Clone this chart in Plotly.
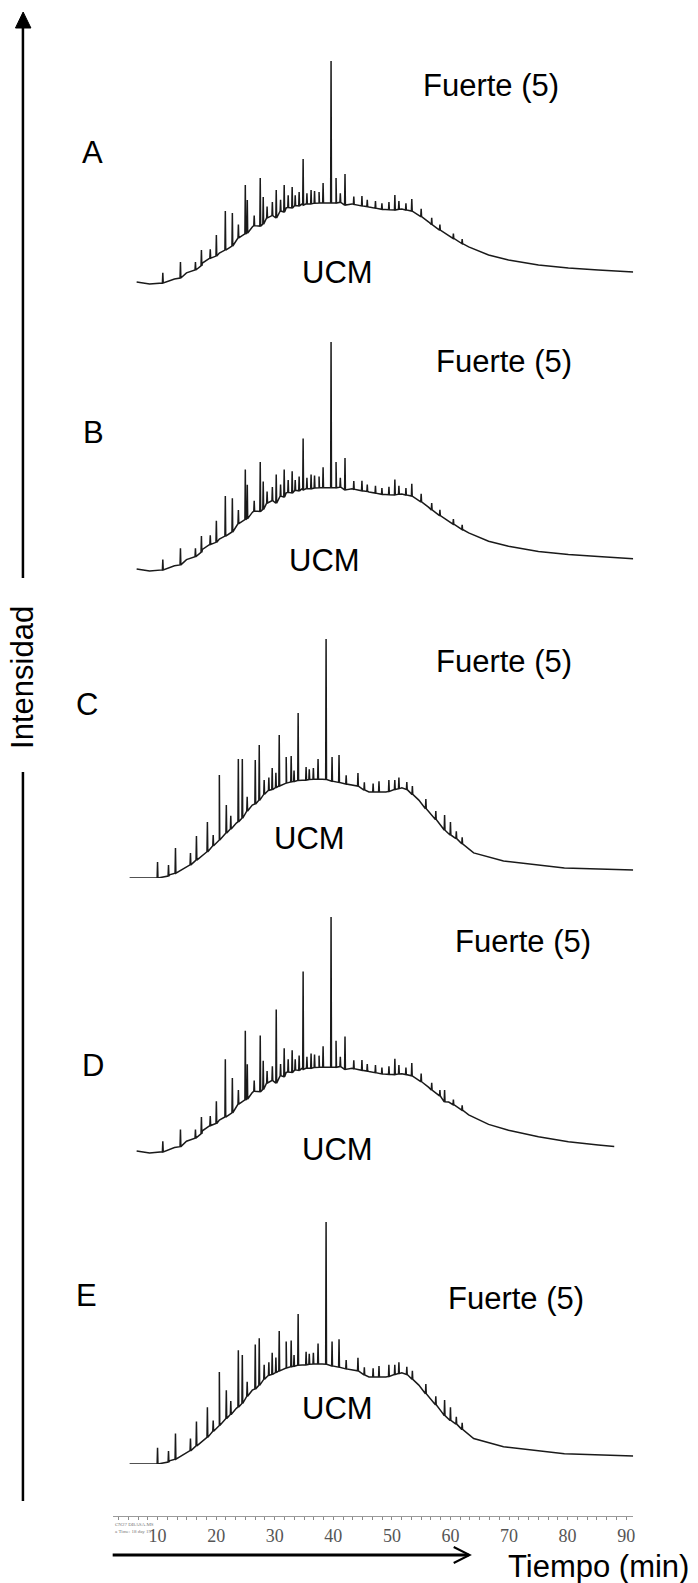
import plotly.graph_objects as go

# ---------------- DATA (time in min, intensity in relative units; main peak = 100) ----------------
# Panel A
a_env_t = [6.43, 8.64, 10.85, 12.89, 14.94, 17.66, 20.55, 23.45, 26.17, 29.06, 31.96, 34.68, 37.57,
           40.47, 43.19, 46.09, 48.98, 51.70, 53.74, 56.30, 59.70, 63.11, 66.51, 69.91, 75.02, 80.13, 85.23, 91.2]
a_env_i = [1.3, 0.4, 0.9, 2.7, 5.4, 9.8, 14.3, 20.1, 25.9, 30.4, 34.4, 36.2, 36.6,
           37.1, 36.2, 34.8, 33.5, 33.9, 32.6, 28.1, 21.9, 17.0, 13.4, 11.2, 8.9, 7.6, 6.7, 5.8]
a_pk_t = [10.9, 13.91, 16.47, 17.49, 20.04, 21.57, 22.77, 24.98, 25.32, 27.53, 28.04, 30.26, 31.62,
          32.98, 34.17, 34.85, 36.21, 37.57, 38.26, 39.62, 40.47, 42.00, 44.89, 50.51, 53.40,
          19.0, 23.8, 26.5, 28.7, 29.6, 31.0, 32.3, 33.5, 35.5, 36.8, 41.2, 43.5, 45.8, 47.2,
          48.3, 49.5, 51.2, 52.4, 55.0, 56.8, 58.2, 60.5, 62.0]
a_pk_base = [0.9, 3.1, 6.7, 8.5, 12.9, 15.6, 17.4, 22.8, 23.2, 26.3, 27.2, 29.9, 32.6,
             34.4, 35.3, 35.7, 36.2, 36.6, 36.6, 36.6, 36.6, 35.7, 35.3, 33.5, 33.0,
             12.0, 21.0, 26.5, 30.0, 31.0, 33.0, 34.6, 35.5, 36.3, 36.5, 36.9, 36.0, 35.0, 34.3,
             33.8, 33.6, 33.8, 33.5, 30.5, 27.0, 24.5, 20.8, 18.5]
a_pk_top = [5.4, 10.3, 10.3, 15.6, 22.3, 33.0, 32.1, 44.6, 37.9, 47.8, 39.3, 42.4, 44.6,
            43.8, 41.5, 56.2, 42.4, 41.5, 45.5, 100, 47.8, 49.6, 39.7, 40.2, 38.4,
            16.0, 27.0, 31.0, 35.0, 37.0, 38.0, 40.0, 40.0, 41.0, 42.0, 41.0, 39.5, 38.0, 37.5,
            36.5, 37.0, 37.5, 36.5, 34.0, 30.0, 27.0, 23.0, 20.5]

# Panel B
b_env_t = [6.43, 8.64, 10.85, 12.89, 14.94, 17.66, 20.55, 23.45, 26.17, 29.06, 31.96, 34.68, 37.57,
           40.47, 43.19, 46.09, 48.98, 51.70, 53.74, 56.30, 59.70, 63.11, 66.51, 69.91, 75.02, 80.13, 85.23, 91.2]
b_env_i = [1.3, 0.4, 0.9, 2.7, 5.4, 9.8, 14.3, 20.1, 25.9, 30.4, 34.4, 36.2, 36.6,
           37.1, 36.2, 34.8, 33.5, 33.9, 32.6, 28.1, 21.9, 17.0, 13.4, 11.2, 8.9, 7.6, 6.7, 5.8]
b_pk_t = [10.9, 13.91, 16.47, 17.49, 20.04, 21.57, 22.77, 24.98, 25.32, 27.53, 28.04, 30.26, 31.62,
          32.98, 34.17, 34.85, 36.21, 37.57, 38.26, 39.62, 40.47, 42.00, 44.89, 50.51, 53.40,
          19.0, 23.8, 26.5, 28.7, 29.6, 31.0, 32.3, 33.5, 35.5, 36.8, 41.2, 43.5, 45.8, 47.2,
          48.3, 49.5, 51.2, 52.4, 55.0, 56.8, 58.2, 60.5, 62.0]
b_pk_base = [0.9, 3.1, 6.7, 8.5, 12.9, 15.6, 17.4, 22.8, 23.2, 26.3, 27.2, 29.9, 32.6,
             34.4, 35.3, 35.7, 36.2, 36.6, 36.6, 36.6, 36.6, 35.7, 35.3, 33.5, 33.0,
             12.0, 21.0, 26.5, 30.0, 31.0, 33.0, 34.6, 35.5, 36.3, 36.5, 36.9, 36.0, 35.0, 34.3,
             33.8, 33.6, 33.8, 33.5, 30.5, 27.0, 24.5, 20.8, 18.5]
b_pk_top = [5.4, 10.3, 10.3, 15.6, 22.3, 33.0, 32.1, 44.6, 37.9, 47.8, 39.3, 42.4, 44.6,
            43.8, 41.5, 58.0, 42.4, 41.5, 45.5, 100, 47.8, 49.6, 39.7, 40.2, 38.4,
            16.0, 27.0, 31.0, 35.0, 37.0, 38.0, 40.0, 40.0, 41.0, 42.0, 41.0, 39.5, 38.0, 37.5,
            36.5, 37.0, 37.5, 36.5, 34.0, 30.0, 27.0, 23.0, 20.5]

# Panel C
c_env_t = [5.23, 9.15, 12.04, 14.94, 17.66, 20.55, 23.45, 26.17, 29.06, 31.96, 34.68, 37.57, 40.47,
           43.19, 46.09, 48.98, 51.70, 54.60, 58.68, 63.96, 69.06, 79.45, 91.2]
c_env_i = [0.0, 0.0, 1.3, 4.6, 9.6, 15.9, 23.0, 30.5, 36.8, 39.7, 41.0, 41.4, 40.2,
           38.9, 36.0, 36.0, 37.7, 32.6, 20.9, 10.5, 7.1, 4.2, 3.3]
c_pk_t = [10.0, 11.87, 13.06, 15.62, 16.64, 18.51, 20.55, 21.74, 23.79, 24.47, 26.68, 27.36, 29.57,
          30.77, 31.96, 32.81, 34.0, 35.36, 37.40, 38.77, 39.79, 40.98, 44.21, 49.49, 52.55, 59.0, 60.0,
          19.5, 22.5, 25.3, 28.2, 29.0, 30.2, 33.3, 35.9, 36.6, 42.2, 45.3, 46.8, 47.8, 50.5,
          51.2, 53.5, 55.8, 57.5, 61.0, 62.0]
c_pk_base = [0.0, 0.8, 2.0, 5.5, 7.5, 11.0, 15.9, 18.8, 23.5, 25.0, 31.0, 32.5, 37.0,
             38.5, 39.7, 40.2, 40.8, 41.0, 41.4, 41.2, 40.5, 40.0, 38.5, 36.2, 37.0, 20.0, 18.0,
             13.5, 20.5, 28.0, 35.0, 36.7, 37.8, 40.4, 41.2, 41.3, 39.3, 36.8, 36.0, 36.0, 37.0,
             37.4, 35.0, 29.0, 24.5, 16.5, 14.3]
c_pk_top = [6.7, 5.4, 12.6, 10.5, 17.6, 23.4, 43.1, 30.5, 49.8, 49.8, 49.4, 55.6, 46.0,
            59.8, 50.6, 51.0, 69.0, 46.4, 49.8, 100, 50.6, 51.5, 43.9, 41.0, 40.2, 26.4, 23.4,
            18.0, 26.0, 34.0, 41.0, 42.0, 44.0, 45.0, 45.5, 46.0, 43.0, 40.0, 39.5, 40.5, 41.0,
            42.0, 38.5, 33.0, 28.0, 19.5, 17.0]

# Panel D
d_env_t = [6.43, 8.64, 10.85, 12.89, 14.94, 17.66, 20.55, 23.45, 26.17, 29.06, 31.96, 34.68, 37.57,
           40.47, 43.19, 46.09, 48.98, 51.70, 53.74, 56.30, 59.70, 63.11, 66.51, 69.91, 75.02, 80.13, 85.23, 87.96]
d_env_i = [1.3, 0.4, 0.9, 2.7, 5.4, 9.8, 14.3, 20.1, 25.9, 30.4, 34.4, 36.2, 36.6,
           37.1, 36.2, 34.8, 33.5, 33.9, 32.6, 28.1, 21.9, 16.5, 12.5, 10.0, 7.3, 5.2, 3.8, 3.2]
d_pk_t = [10.9, 13.91, 16.47, 17.49, 20.04, 21.57, 22.77, 24.98, 25.32, 27.53, 28.04, 30.26, 31.62,
          32.98, 34.17, 34.85, 36.21, 37.57, 38.26, 39.62, 40.47, 42.00, 44.89, 50.51, 53.40, 59.0,
          19.0, 23.8, 26.5, 28.7, 29.6, 31.0, 32.3, 33.5, 35.5, 36.8, 41.2, 43.5, 45.8, 47.2,
          48.3, 49.5, 51.2, 52.4, 55.0, 56.8, 58.2, 60.5, 62.0]
d_pk_base = [0.9, 3.1, 6.7, 8.5, 12.9, 15.6, 17.4, 22.8, 23.2, 26.3, 27.2, 29.9, 32.6,
             34.4, 35.3, 35.7, 36.2, 36.6, 36.6, 36.6, 36.6, 35.7, 35.3, 33.5, 33.0, 22.0,
             12.0, 21.0, 26.5, 30.0, 31.0, 33.0, 34.6, 35.5, 36.3, 36.5, 36.9, 36.0, 35.0, 34.3,
             33.8, 33.6, 33.8, 33.5, 30.5, 27.0, 24.5, 20.8, 18.5]
d_pk_top = [5.4, 10.3, 10.3, 15.6, 22.3, 40.0, 32.1, 52.0, 37.9, 50.0, 39.3, 61.0, 44.6,
            43.8, 41.5, 77.0, 42.4, 41.5, 45.5, 100, 47.8, 49.6, 39.7, 40.2, 38.4, 27.0,
            16.0, 27.0, 31.0, 35.0, 37.0, 38.0, 40.0, 40.0, 41.0, 42.0, 41.0, 39.5, 38.0, 37.5,
            36.5, 37.0, 37.5, 36.5, 34.0, 30.0, 27.0, 23.0, 20.5]

# Panel E
e_env_t = [5.23, 9.15, 12.04, 14.94, 17.66, 20.55, 23.45, 26.17, 29.06, 31.96, 34.68, 37.57, 40.47,
           43.19, 46.09, 48.98, 51.70, 54.60, 58.68, 63.96, 69.06, 79.45, 91.2]
e_env_i = [0.0, 0.0, 1.3, 4.6, 9.6, 15.9, 23.0, 30.5, 36.8, 39.7, 41.0, 41.4, 40.2,
           38.9, 36.0, 36.0, 37.7, 32.6, 20.9, 10.5, 7.1, 4.2, 3.3]
e_pk_t = [10.0, 11.87, 13.06, 15.62, 16.64, 18.51, 20.55, 21.74, 23.79, 24.47, 26.68, 27.36, 29.57,
          30.77, 31.96, 32.81, 34.0, 35.36, 37.40, 38.77, 39.79, 40.98, 44.21, 49.49, 52.55, 59.0, 60.0,
          19.5, 22.5, 25.3, 28.2, 29.0, 30.2, 33.3, 35.9, 36.6, 42.2, 45.3, 46.8, 47.8, 50.5,
          51.2, 53.5, 55.8, 57.5, 61.0, 62.0]
e_pk_base = [0.0, 0.8, 2.0, 5.5, 7.5, 11.0, 15.9, 18.8, 23.5, 25.0, 31.0, 32.5, 37.0,
             38.5, 39.7, 40.2, 40.8, 41.0, 41.4, 41.2, 40.5, 40.0, 38.5, 36.2, 37.0, 20.0, 18.0,
             13.5, 20.5, 28.0, 35.0, 36.7, 37.8, 40.4, 41.2, 41.3, 39.3, 36.8, 36.0, 36.0, 37.0,
             37.4, 35.0, 29.0, 24.5, 16.5, 14.3]
e_pk_top = [6.7, 5.4, 12.6, 10.5, 17.6, 23.4, 38.0, 30.5, 47.0, 45.0, 49.4, 52.0, 46.0,
            55.0, 50.6, 51.0, 62.0, 46.4, 49.8, 100, 50.6, 51.5, 43.9, 41.0, 40.2, 26.4, 23.4,
            18.0, 26.0, 34.0, 41.0, 42.0, 44.0, 45.0, 45.5, 46.0, 43.0, 40.0, 39.5, 40.5, 41.0,
            42.0, 38.5, 33.0, 28.0, 19.5, 17.0]

panel_labels = ["A", "B", "C", "D", "E"]
peak_label = "Fuerte (5)"
hump_label = "UCM"
x_ticks = [10, 20, 30, 40, 50, 60, 70, 80, 90]

# ---------------- STYLE / GEOMETRY (pixels of the 698x1583 page) ----------------
W, H = 698, 1583
panel_base_px = [285, 572, 878, 1154, 1464]   # y of intensity 0
panel_top_px = [61, 342, 639, 917, 1222]      # y of intensity 100
label_pos = [(93, 153), (94, 432), (87, 704), (93, 1065), (87, 1295)]
fuerte_pos = [(492, 85), (505, 361), (505, 661), (525, 942), (517, 1298)]
ucm_pos = [(338, 273), (325, 560), (310, 838), (338, 1149), (338, 1408)]
axis_px = (113, 635, 1516)   # x0, x1, y of time axis

def px(x):
    return x / W

def py(y):
    return 1 - y / H

def t_of_px(x):
    return 10 + (x - 158) / 5.875

def build(env_t, env_i, pk_t, pk_b, pk_h):
    pts = list(zip(env_t, env_i))
    w = 0.07
    for t, b, h in zip(pk_t, pk_b, pk_h):
        pts += [(t - w, b), (t, h), (t + w, b)]
    pts.sort(key=lambda p: p[0])
    return [p[0] for p in pts], [p[1] for p in pts]

data = [
    (a_env_t, a_env_i, a_pk_t, a_pk_base, a_pk_top),
    (b_env_t, b_env_i, b_pk_t, b_pk_base, b_pk_top),
    (c_env_t, c_env_i, c_pk_t, c_pk_base, c_pk_top),
    (d_env_t, d_env_i, d_pk_t, d_pk_base, d_pk_top),
    (e_env_t, e_env_i, e_pk_t, e_pk_base, e_pk_top),
]

fig = go.Figure()
FONT = "Arial, Liberation Sans, sans-serif"

for k, series in enumerate(data):
    xs, ys = build(*series)
    yname = "y" if k == 0 else f"y{k+1}"
    fig.add_trace(go.Scatter(x=xs, y=ys, mode="lines", xaxis="x", yaxis=yname,
                             line=dict(color="#1a1a1a", width=1.5), showlegend=False,
                             hoverinfo="skip"))
    ax = dict(domain=[py(panel_base_px[k]), py(panel_top_px[k])], range=[0, 100],
              visible=False, anchor="x", fixedrange=True)
    key = "yaxis" if k == 0 else f"yaxis{k+1}"
    fig.layout[key] = ax

fig.update_layout(
    width=W, height=H, margin=dict(l=0, r=0, t=0, b=0),
    paper_bgcolor="white", plot_bgcolor="rgba(0,0,0,0)",
    xaxis=dict(domain=[px(axis_px[0]), px(axis_px[1])],
               range=[t_of_px(axis_px[0]), t_of_px(axis_px[1])],
               anchor="free", position=py(axis_px[2]),
               showline=True, linecolor="#9a9a9a", linewidth=1,
               showgrid=False, zeroline=False,
               tickmode="array", tickvals=x_ticks, ticks="outside", ticklen=3,
               tickcolor="#8a8a8a", tickwidth=1,
               minor=dict(dtick=10 / 6, tick0=0, ticks="outside", ticklen=3, tickcolor="#8a8a8a"),
               tickfont=dict(family="Liberation Serif, Times New Roman, serif", size=18, color="#555555"),
               fixedrange=True),
    showlegend=False,
)

def text_ann(text, x, y, size=31, angle=0):
    return dict(text=text, x=px(x), y=py(y), xref="paper", yref="paper", showarrow=False,
                xanchor="center", yanchor="middle", textangle=angle,
                font=dict(family=FONT, size=size, color="black"))

ann = []
for k in range(5):
    ann.append(text_ann(panel_labels[k], *label_pos[k]))
    ann.append(text_ann(peak_label, *fuerte_pos[k]))
    ann.append(text_ann(hump_label, *ucm_pos[k]))
ann.append(text_ann("Intensidad", 22, 677, angle=-90))
ann.append(text_ann("Tiempo (min)", 600, 1566))
ann.append(dict(text="CN27 DBASA.MS<br>a Time: 18 day 19", x=px(113), y=py(1528), xref="paper", yref="paper",
                xanchor="left", yanchor="middle", showarrow=False, align="left",
                font=dict(family="Liberation Serif, serif", size=5, color="#777777")))
fig.update_layout(annotations=ann)

shapes = [
    dict(type="line", xref="paper", yref="paper", x0=px(23), x1=px(23), y0=py(26), y1=py(578),
         line=dict(color="black", width=2.5)),
    dict(type="path", xref="paper", yref="paper",
         path=f"M {px(15.5)} {py(28)} L {px(31)} {py(28)} L {px(23.2)} {py(12)} Z",
         fillcolor="black", line=dict(color="black", width=1)),
    dict(type="line", xref="paper", yref="paper", x0=px(23), x1=px(23), y0=py(772), y1=py(1501),
         line=dict(color="black", width=2.5)),
    dict(type="line", xref="paper", yref="paper", x0=px(113), x1=px(470), y0=py(1555), y1=py(1555),
         line=dict(color="black", width=3)),
    dict(type="path", xref="paper", yref="paper",
         path=f"M {px(455)} {py(1547)} L {px(471)} {py(1555)} L {px(455)} {py(1563)}",
         line=dict(color="black", width=2)),
]
fig.update_layout(shapes=shapes)

fig.write_html("out.html")
